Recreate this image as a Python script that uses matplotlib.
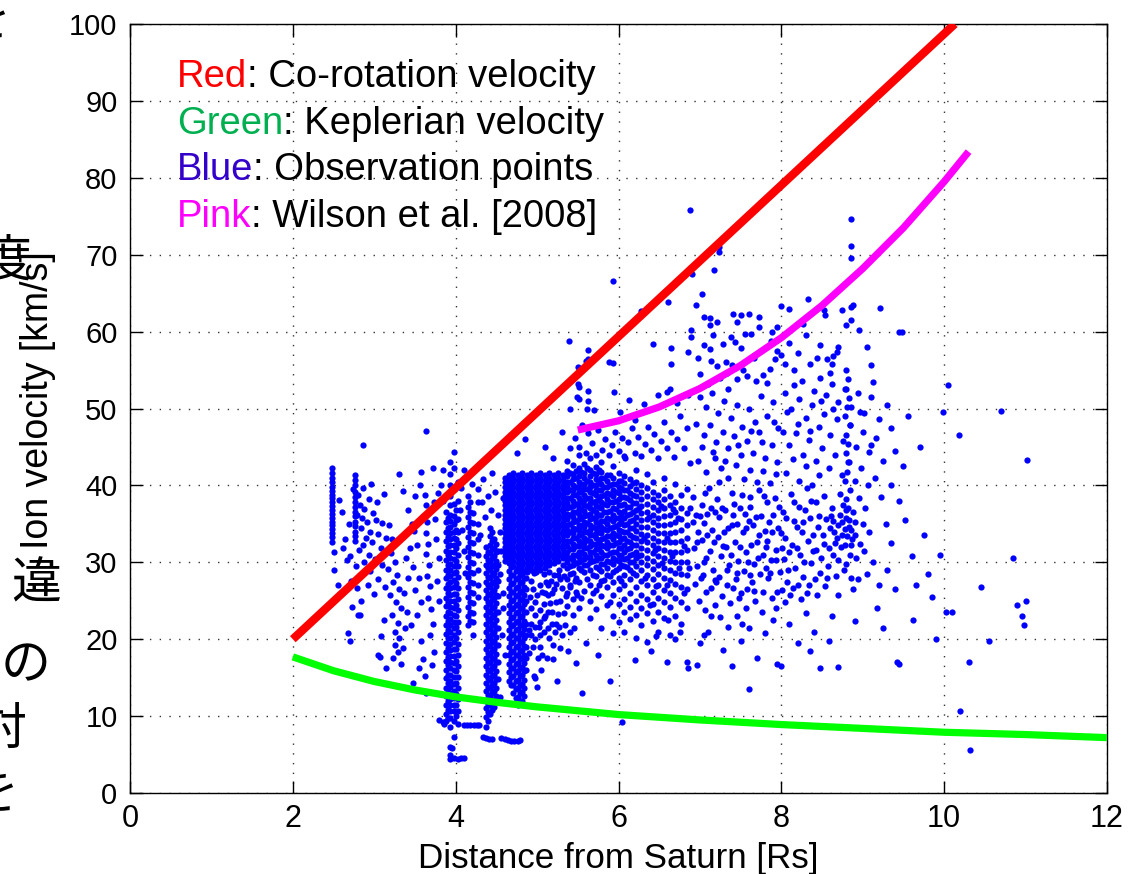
import matplotlib
matplotlib.use("Agg")
import matplotlib.pyplot as plt

# ---------------- model curves ----------------
red_x = [2.0, 10.13]
red_y = [20.0, 100.0]

green_x = [2.0, 2.5, 3.0, 3.5, 4.0, 4.5, 5.0, 5.5, 6.0, 7.0, 8.0, 9.0, 10.0, 11.0, 12.0]
green_y = [17.7, 15.9, 14.5, 13.4, 12.5, 11.8, 11.2, 10.7, 10.2, 9.5, 8.9, 8.4, 7.9, 7.6, 7.2]

pink_x = [5.5, 6.0, 6.5, 7.0, 7.5, 8.0, 8.5, 9.0, 9.5, 10.0, 10.3]
pink_y = [47.2, 48.4, 50.2, 52.6, 55.6, 59.2, 63.4, 68.2, 73.5, 79.5, 83.4]

# ---------------- observation points ----------------
# vertical streaks: (x, [y values])
left_cols = [
    (2.48, [42.2, 41.6, 41.0, 40.4, 39.8, 39.3, 38.8, 38.3, 37.8, 37.3, 36.8, 36.3, 35.8, 35.3, 34.8, 34.3, 33.8, 33.3, 32.7]),
    (2.76, [41.3, 40.7, 40.0, 39.2, 38.5, 37.9, 37.2, 36.6, 36.0, 35.3, 34.7, 34.0, 33.4, 32.8]),
]

left_pts = [
    (2.50, 31.4), (2.50, 29.0), (2.57, 38.1), (2.60, 36.6), (2.64, 33.0), (2.62, 31.8), (2.66, 30.3),
    (2.55, 27.0), (2.68, 20.8), (2.70, 19.8), (2.80, 23.1), (2.83, 23.1), (3.07, 17.7), (2.86, 45.2),
    (3.63, 47.1), (2.74, 39.5), (2.80, 38.8), (2.82, 37.5), (2.79, 36.2), (2.85, 35.8), (2.88, 36.9),
    (2.91, 35.2), (2.84, 34.4), (2.95, 34.0), (2.98, 36.4), (3.02, 35.5), (2.90, 33.1), (2.86, 32.3),
    (2.81, 31.6), (2.93, 31.0), (2.97, 32.6), (3.05, 33.7), (3.08, 31.8), (3.01, 30.4), (2.88, 30.0),
    (2.78, 29.5), (2.83, 28.4), (2.95, 28.9), (3.10, 29.6), (3.05, 27.8), (2.92, 27.0), (2.79, 26.6),
    (3.00, 25.9), (3.13, 26.8), (2.84, 25.0), (2.72, 27.6), (2.70, 30.8), (2.73, 24.2), (2.69, 35.0),
    (2.93, 38.2), (3.03, 37.9), (3.10, 35.1), (3.15, 33.2), (3.12, 38.9), (2.86, 39.7), (2.96, 40.2),
    (3.18, 34.9), (3.22, 33.0), (3.20, 31.2), (3.25, 30.0), (3.17, 29.1), (3.28, 28.3), (3.23, 27.4),
    (3.30, 26.5), (3.19, 25.8), (3.27, 24.9), (3.33, 24.0), (3.22, 23.2), (3.29, 22.1), (3.25, 21.0),
    (3.31, 20.1), (3.26, 19.2), (3.29, 18.3), (3.23, 17.6), (3.33, 16.8), (3.35, 18.9), (3.38, 21.5),
    (3.40, 23.6), (3.36, 26.0), (3.42, 27.9), (3.39, 30.5), (3.44, 31.8), (3.37, 33.6), (3.46, 35.0),
    (3.41, 36.8), (3.49, 34.1), (3.52, 32.2), (3.47, 29.4), (3.55, 28.0), (3.50, 26.4), (3.57, 24.8),
    (3.53, 23.1), (3.45, 21.8), (3.58, 19.8), (3.60, 17.4), (3.62, 15.2), (3.64, 13.0), (3.60, 36.0),
    (3.63, 37.5), (3.62, 38.7), (3.65, 35.2), (3.63, 33.8), (3.66, 32.4), (3.64, 31.1), (3.67, 29.7),
    (3.65, 28.2), (3.68, 26.9), (3.66, 25.3), (3.70, 23.9), (3.72, 22.0), (3.69, 20.6), (3.74, 18.4),
    (3.71, 16.6), (3.75, 35.6), (3.73, 37.8), (3.78, 39.0), (3.76, 33.0), (3.79, 30.5), (3.77, 27.6),
    (3.80, 25.0), (3.56, 40.0), (3.50, 38.6), (3.35, 39.3), (3.12, 22.5), (3.08, 20.4), (3.05, 18.0),
    (3.15, 16.2), (3.48, 14.3), (3.55, 16.2), (3.30, 41.5), (3.58, 41.8), (3.72, 42.3),
]

streak_cols = [
    (3.88, [36.5, 35.2, 33.9, 32.8, 31.5, 30.3, 29.0, 27.9, 26.6, 25.4, 24.3, 23.0, 21.8, 20.7, 19.5, 18.3,
            17.2, 16.0, 14.9, 13.7, 12.6, 11.4, 10.3, 9.4]),
    (3.905, [35.8, 34.5, 33.3, 32.1, 30.9, 29.6, 28.4, 27.2, 26.0, 24.8, 23.6, 22.4, 21.2, 20.1, 18.9, 17.7,
             16.6, 15.4, 14.3, 13.1, 12.0, 10.8, 9.8]),
    (3.93, [43.0, 41.5, 40.0, 38.6, 37.4, 36.2, 35.4, 34.6, 33.8, 33.0, 32.2, 31.4, 30.6, 29.8, 29.0, 28.2,
            27.4, 26.6, 25.8, 25.0, 24.2, 23.4, 22.6, 21.8, 21.0, 20.2, 19.4, 18.6, 17.8, 17.0, 16.2, 15.4,
            14.6, 13.8, 13.0, 12.2, 11.4, 10.6, 9.8, 8.6, 6.0, 5.0, 4.4]),
    (3.98, [44.3, 42.2, 39.8, 37.6, 36.0, 35.0, 34.0, 33.1, 32.2, 31.3, 30.4, 29.5, 28.6, 27.7, 26.8, 25.9,
            25.0, 24.1, 23.2, 22.3, 21.4, 20.5, 19.6, 18.7, 17.8, 16.9, 16.0, 15.1, 14.2, 13.3, 12.4, 11.5,
            10.6, 9.4, 7.3, 4.5]),
    (4.005, [36.8, 35.5, 34.2, 33.0, 31.8, 30.2, 28.8, 27.3, 25.9, 24.5, 23.0, 21.6, 20.1, 18.7, 17.2, 15.8,
             14.3, 12.9, 11.4, 10.0]),
    (4.03, [40.5, 38.0, 35.6, 33.9, 32.5, 31.0, 29.5, 28.1, 26.6, 25.2, 23.8, 22.3, 20.9, 19.4, 18.0, 16.5,
            15.1, 13.6, 12.2, 10.7, 9.0, 4.4]),
    (4.15, [38.6, 37.2, 35.9, 34.6, 33.3, 32.0, 30.7, 29.4, 28.1, 26.8, 25.5, 24.2, 23.0, 21.8]),
    (4.18, [37.9, 36.5, 35.2, 33.9, 32.6, 31.3, 30.0, 28.7, 27.4, 26.1, 24.8, 23.6, 22.4]),
    (4.21, [36.4, 35.1, 33.8, 32.5, 31.2, 29.9, 28.6, 27.3, 26.0, 24.7, 23.4, 22.2, 20.6]),
    (4.27, [39.5, 37.8, 35.0, 33.0, 31.0, 29.0, 27.0, 25.5]),
    (4.37, [32.0, 30.8, 29.7, 28.6, 27.5, 26.4, 25.3, 24.2, 23.1, 22.0, 20.9, 19.8, 18.7, 17.6, 16.5, 15.4,
            14.3, 13.2, 12.1, 11.0, 9.9, 8.6]),
    (4.395, [31.4, 30.3, 29.2, 28.1, 27.0, 25.9, 24.8, 23.7, 22.6, 21.5, 20.4, 19.3, 18.2, 17.1, 16.0, 14.9,
             13.8, 12.7, 11.6, 10.5, 9.4]),
    (4.42, [34.5, 33.4, 32.3, 31.2, 30.1, 29.0, 27.9, 26.8, 25.7, 24.6, 23.5, 22.4, 21.3, 20.2, 19.1, 18.0,
            16.9, 15.8, 14.7, 13.6, 12.5, 11.4, 10.3]),
    (4.445, [33.9, 32.8, 31.7, 30.6, 29.5, 28.4, 27.3, 26.2, 25.1, 24.0, 22.9, 21.8, 20.7, 19.6, 18.5, 17.4,
             16.3, 15.2, 14.1, 13.0, 11.9, 10.8]),
    (4.47, [33.0, 31.9, 30.8, 29.7, 28.6, 27.5, 26.4, 25.3, 24.2, 23.1, 22.0, 20.9, 19.8, 18.7, 17.6, 16.5,
            15.4, 14.3, 13.2, 12.1, 11.2]),
    (4.495, [32.4, 31.3, 30.2, 29.1, 28.0, 26.9, 25.8, 24.7, 23.6, 22.5, 21.4, 20.3, 19.2, 18.1, 17.0, 15.9,
             14.8, 13.7, 12.6]),
    (4.52, [31.5, 29.6, 27.6, 25.6, 23.6, 21.4, 19.2, 17.0, 14.8]),
    (4.66, [30.0, 28.9, 27.8, 26.7, 25.6, 24.5, 23.4, 22.3, 21.2, 20.1, 19.0, 17.9, 16.8, 15.7, 14.6]),
    (4.685, [29.4, 28.3, 27.2, 26.1, 25.0, 23.9, 22.8, 21.7, 20.6, 19.5, 18.4, 17.3, 16.2, 15.1, 14.0]),
    (4.71, [29.5, 28.4, 27.3, 26.2, 25.1, 24.0, 22.9, 21.8, 20.7, 19.6, 18.5, 17.4, 16.3, 15.2, 14.1, 13.0]),
    (4.735, [28.9, 27.8, 26.7, 25.6, 24.5, 23.4, 22.3, 21.2, 20.1, 19.0, 17.9, 16.8, 15.7, 14.6, 13.5, 12.4]),
    (4.76, [29.0, 27.9, 26.8, 25.7, 24.6, 23.5, 22.4, 21.3, 20.2, 19.1, 18.0, 16.9, 15.8, 14.7, 13.6, 12.5, 11.4]),
    (4.785, [28.4, 27.3, 26.2, 25.1, 24.0, 22.9, 21.8, 20.7, 19.6, 18.5, 17.4, 16.3, 15.2, 14.1, 13.0, 11.9]),
    (4.81, [28.5, 27.4, 26.3, 25.2, 24.1, 23.0, 21.9, 20.8, 19.7, 18.6, 17.5, 16.4, 15.3, 14.2, 13.1, 12.0]),
    (4.835, [27.9, 26.8, 25.7, 24.6, 23.5, 22.4, 21.3, 20.2, 19.1, 18.0, 16.9, 15.8, 14.7, 13.6, 12.6]),
    (4.86, [28.0, 26.5, 25.0, 23.5, 22.0, 20.5, 19.0, 17.5, 16.0]),
]

mid_pts = [
    (3.80, 9.5), (3.84, 9.2), (3.86, 9.0), (4.07, 4.5), (4.10, 4.6), (3.95, 5.8),
    (4.10, 8.9), (4.14, 8.9), (4.18, 8.8), (4.22, 8.9), (4.26, 8.8), (4.29, 8.8),
    (4.33, 7.3), (4.37, 7.1), (4.41, 7.0), (4.45, 7.0), (4.56, 7.1), (4.60, 7.0), (4.64, 6.9), (4.68, 6.8),
    (4.72, 6.8), (4.76, 6.8), (4.79, 6.9),
    (4.57, 20.5), (4.60, 18.0), (4.58, 24.0), (4.93, 22.0), (4.95, 19.0), (4.91, 25.5), (4.98, 15.0), (4.55, 12.5),
    (4.05, 36.8), (4.08, 34.2), (4.10, 31.5), (4.12, 28.6), (4.07, 39.6), (4.32, 37.8), (4.36, 35.9),
    (4.40, 38.6), (4.44, 36.8), (4.48, 39.2), (4.52, 36.1), (4.55, 34.0), (4.58, 38.4), (4.56, 31.5),
    (4.54, 28.5), (4.58, 26.0), (4.30, 33.6), (4.33, 40.8), (4.45, 41.6), (4.20, 40.2), (4.10, 42.0),
    (3.85, 42.0), (3.82, 40.1), (3.84, 38.0),
    (4.93, 24.0), (4.93, 20.5), (4.98, 24.8), (4.98, 23.2), (4.98, 21.6), (4.98, 20.0), (5.03, 23.8),
    (5.03, 22.2), (5.03, 20.6), (5.03, 19.0), (5.08, 24.6), (5.08, 22.8), (5.08, 21.0), (5.13, 25.8),
    (5.13, 23.6), (5.13, 21.4), (5.18, 26.0), (5.18, 23.5), (5.23, 27.2), (5.23, 24.8), (5.23, 22.0),
    (5.28, 27.8), (5.28, 25.0), (5.33, 28.2), (5.33, 23.4), (5.30, 20.5), (5.20, 19.2), (5.12, 17.6),
    (5.05, 16.0), (4.96, 15.2), (5.38, 18.5), (5.45, 21.5), (5.25, 14.6), (5.00, 13.8), (5.48, 16.9),
    (5.16, 24.7), (5.21, 26.5), (5.26, 23.3), (5.31, 26.6), (5.10, 26.0), (5.06, 18.0), (5.15, 20.2),
    (5.22, 21.0), (5.28, 18.8), (5.35, 25.6), (5.19, 17.4), (5.01, 17.5), (4.90, 21.2), (4.90, 18.2),
    (4.95, 26.5), (5.00, 25.7), (5.06, 26.1), (5.11, 27.4), (5.17, 27.6), (5.21, 28.4), (5.27, 29.0),
    (5.32, 29.6), (5.37, 24.3), (5.41, 26.8), (5.44, 23.2), (5.40, 21.0), (5.34, 21.8), (5.27, 21.6),
    (5.18, 22.0), (5.10, 23.0), (5.02, 21.6), (5.26, 28.3), (5.14, 27.0), (5.40, 28.5), (5.47, 27.6),
    (5.49, 25.7), (4.92, 27.6), (5.03, 27.0), (5.09, 28.5), (4.96, 28.6),
]

# solid core of the cloud
core_cols = [
    (4.600, [41.0, 40.4, 39.8, 39.2, 38.6, 38.0, 37.4, 36.8, 36.2, 35.6, 35.0, 34.4, 33.8, 33.2, 32.6, 32.0,
             31.4, 30.8, 30.2]),
    (4.655, [41.3, 40.7, 40.1, 39.5, 38.9, 38.3, 37.7, 37.1, 36.5, 35.9, 35.3, 34.7, 34.1, 33.5, 32.9, 32.3,
             31.7, 31.1, 30.5, 29.9]),
    (4.710, [41.6, 41.0, 40.4, 39.8, 39.2, 38.6, 38.0, 37.4, 36.8, 36.2, 35.6, 35.0, 34.4, 33.8, 33.2, 32.6,
             32.0, 31.4, 30.8, 30.2]),
    (4.765, [41.3, 40.7, 40.1, 39.5, 38.9, 38.3, 37.7, 37.1, 36.5, 35.9, 35.3, 34.7, 34.1, 33.5, 32.9, 32.3,
             31.7, 31.1, 30.5, 29.9, 29.3]),
    (4.820, [41.6, 41.0, 40.4, 39.8, 39.2, 38.6, 38.0, 37.4, 36.8, 36.2, 35.6, 35.0, 34.4, 33.8, 33.2, 32.6,
             32.0, 31.4, 30.8, 30.2, 29.6, 29.0]),
    (4.875, [41.3, 40.7, 40.1, 39.5, 38.9, 38.3, 37.7, 37.1, 36.5, 35.9, 35.3, 34.7, 34.1, 33.5, 32.9, 32.3,
             31.7, 31.1, 30.5, 29.9, 29.3, 28.7]),
    (4.930, [41.6, 41.0, 40.4, 39.8, 39.2, 38.6, 38.0, 37.4, 36.8, 36.2, 35.6, 35.0, 34.4, 33.8, 33.2, 32.6,
             32.0, 31.4, 30.8, 30.2, 29.6, 29.0]),
    (4.985, [41.3, 40.7, 40.1, 39.5, 38.9, 38.3, 37.7, 37.1, 36.5, 35.9, 35.3, 34.7, 34.1, 33.5, 32.9, 32.3,
             31.7, 31.1, 30.5, 29.9, 29.3, 28.7]),
    (5.040, [41.6, 41.0, 40.4, 39.8, 39.2, 38.6, 38.0, 37.4, 36.8, 36.2, 35.6, 35.0, 34.4, 33.8, 33.2, 32.6,
             32.0, 31.4, 30.8, 30.2, 29.6, 29.0]),
    (5.095, [41.3, 40.7, 40.1, 39.5, 38.9, 38.3, 37.7, 37.1, 36.5, 35.9, 35.3, 34.7, 34.1, 33.5, 32.9, 32.3,
             31.7, 31.1, 30.5, 29.9, 29.3]),
    (5.150, [41.6, 41.0, 40.4, 39.8, 39.2, 38.6, 38.0, 37.4, 36.8, 36.2, 35.6, 35.0, 34.4, 33.8, 33.2, 32.6,
             32.0, 31.4, 30.8, 30.2, 29.6, 28.8]),
    (5.205, [41.3, 40.7, 40.1, 39.5, 38.9, 38.3, 37.7, 37.1, 36.5, 35.9, 35.3, 34.7, 34.1, 33.5, 32.9, 32.3,
             31.7, 31.1, 30.5, 29.9]),
    (5.260, [41.6, 41.0, 40.4, 39.8, 39.2, 38.6, 38.0, 37.4, 36.8, 36.2, 35.6, 35.0, 34.4, 33.8, 33.2, 32.6,
             32.0, 31.4, 30.8, 30.2]),
    (5.315, [41.3, 40.7, 40.1, 39.5, 38.9, 38.3, 37.7, 37.1, 36.5, 35.9, 35.3, 34.7, 34.1, 33.5, 32.9, 32.3,
             31.7, 31.1, 30.5]),
]

# dense part of the cloud to the right of the core
dense_cols = [
    (5.37, [43.2, 41.9, 41.2, 40.5, 39.8, 39.1, 38.4, 37.7, 37.0, 36.3, 35.6, 34.9, 34.2, 33.5, 32.8, 32.1,
            31.4, 30.7, 30.0, 29.3, 27.8, 26.0]),
    (5.405, [41.6, 40.5, 39.4, 38.3, 37.2, 36.1, 35.0, 33.9, 32.8, 31.7, 30.6, 29.5, 27.0]),
    (5.44, [42.6, 41.5, 40.8, 40.1, 39.4, 38.7, 38.0, 37.3, 36.6, 35.9, 35.2, 34.5, 33.8, 33.1, 32.4, 31.7,
            31.0, 30.3, 29.6, 28.6, 25.2]),
    (5.475, [41.9, 40.9, 39.8, 38.7, 37.6, 36.5, 35.4, 34.3, 33.2, 32.1, 31.0, 29.9, 28.0, 26.2]),
    (5.51, [44.0, 42.2, 41.2, 40.5, 39.8, 39.1, 38.4, 37.7, 37.0, 36.3, 35.6, 34.9, 34.2, 33.5, 32.8, 32.1,
            31.4, 30.7, 30.0, 29.2, 27.5, 24.1]),
    (5.545, [41.7, 40.2, 39.1, 38.0, 36.9, 35.8, 34.7, 33.6, 32.5, 31.4, 30.3, 29.0, 25.4]),
    (5.58, [42.8, 41.6, 40.9, 40.2, 39.5, 38.8, 38.1, 37.4, 36.7, 36.0, 35.3, 34.6, 33.9, 33.2, 32.5, 31.8,
            31.1, 30.4, 29.7, 28.8, 26.3]),
    (5.615, [42.3, 40.6, 39.5, 38.4, 37.3, 36.2, 35.1, 34.0, 32.9, 31.8, 30.7, 29.6, 27.8]),
    (5.65, [43.5, 42.0, 41.2, 40.5, 39.8, 39.1, 38.4, 37.7, 37.0, 36.3, 35.6, 34.9, 34.2, 33.5, 32.8, 32.1,
            31.4, 30.7, 30.0, 29.0, 27.1, 25.0, 22.8]),
    (5.685, [41.6, 40.1, 39.0, 37.9, 36.8, 35.7, 34.6, 33.5, 32.4, 31.3, 30.2, 28.4, 26.0]),
    (5.72, [42.4, 41.5, 40.8, 40.1, 39.4, 38.7, 38.0, 37.3, 36.6, 35.9, 35.2, 34.5, 33.8, 33.1, 32.4, 31.7,
            31.0, 30.3, 29.4, 28.2, 26.4, 23.9]),
    (5.755, [42.0, 40.5, 39.4, 38.3, 37.2, 36.1, 35.0, 33.9, 32.8, 31.7, 30.6, 29.1, 27.0]),
    (5.79, [43.0, 41.8, 41.0, 40.2, 39.4, 38.6, 37.8, 37.0, 36.2, 35.4, 34.6, 33.8, 33.0, 32.2, 31.4, 30.6,
            29.8, 28.9, 27.6, 25.6, 21.5]),
    (5.825, [40.9, 39.8, 38.7, 37.6, 36.5, 35.4, 34.3, 33.2, 32.1, 31.0, 29.8, 27.7]),
    (5.86, [41.4, 40.6, 39.8, 39.0, 38.2, 37.4, 36.6, 35.8, 35.0, 34.2, 33.4, 32.6, 31.8, 31.0, 30.2, 29.3,
            28.3, 26.8, 24.4]),
    (5.895, [41.4, 40.0, 38.9, 37.8, 36.7, 35.6, 34.5, 33.4, 32.3, 31.2, 30.1, 28.2, 24.8]),
    (5.93, [42.5, 41.0, 40.2, 39.4, 38.6, 37.8, 37.0, 36.2, 35.4, 34.6, 33.8, 33.0, 32.2, 31.4, 30.6, 29.8,
            28.8, 27.4, 25.8, 23.0, 20.8]),
    (5.965, [40.2, 39.1, 38.0, 36.9, 35.8, 34.7, 33.6, 32.5, 31.4, 30.3, 29.0]),
    (6.00, [41.6, 40.6, 39.8, 39.0, 38.2, 37.4, 36.6, 35.8, 35.0, 34.2, 33.4, 32.6, 31.8, 31.0, 30.2, 29.3,
            28.0, 26.5, 24.6, 22.2]),
    (6.035, [40.6, 39.6, 38.5, 37.4, 36.3, 35.2, 34.1, 33.0, 31.9, 30.8, 29.7, 27.6]),
    (6.07, [43.8, 41.2, 40.3, 39.4, 38.5, 37.6, 36.7, 35.8, 34.9, 34.0, 33.1, 32.2, 31.3, 30.4, 29.5, 28.4,
            27.0, 25.2, 23.5, 21.0]),
    (6.105, [39.4, 38.3, 37.2, 36.1, 35.0, 33.9, 32.8, 31.7, 30.6, 29.4]),
    (6.14, [40.8, 39.9, 39.0, 38.1, 37.2, 36.3, 35.4, 34.5, 33.6, 32.7, 31.8, 30.9, 30.0, 29.0, 27.8, 26.0,
            24.2, 22.6]),
    (6.175, [40.3, 38.8, 37.7, 36.6, 35.5, 34.4, 33.3, 32.2, 31.1, 30.0, 28.6]),
    (6.21, [42.0, 40.4, 39.5, 38.6, 37.7, 36.8, 35.9, 35.0, 34.1, 33.2, 32.3, 31.4, 30.5, 29.5, 28.4, 26.8,
            25.0, 23.2, 20.2]),
    (6.28, [40.0, 39.1, 38.2, 37.3, 36.4, 35.5, 34.6, 33.7, 32.8, 31.9, 31.0, 30.1, 29.0, 27.6, 25.8, 24.0, 21.8]),
    (6.35, [41.5, 39.6, 38.6, 37.6, 36.6, 35.6, 34.6, 33.6, 32.6, 31.6, 30.6, 29.6, 28.4, 27.0, 25.2, 23.4, 19.6]),
    (6.42, [40.5, 39.2, 38.2, 37.2, 36.2, 35.2, 34.2, 33.2, 32.2, 31.2, 30.2, 29.1, 27.8, 26.2, 24.6, 22.4]),
    (6.49, [38.8, 37.8, 36.8, 35.8, 34.8, 33.8, 32.8, 31.8, 30.8, 29.7, 28.5, 27.0, 25.4, 23.6, 21.0]),
    (6.56, [41.0, 39.4, 38.2, 37.1, 36.0, 34.9, 33.8, 32.7, 31.6, 30.5, 29.3, 28.0, 26.4, 24.8, 22.8]),
    (6.63, [38.6, 37.4, 36.2, 35.0, 33.8, 32.6, 31.4, 30.2, 29.0, 27.7, 26.0, 24.2, 20.6]),
    (6.70, [40.2, 37.8, 36.5, 35.2, 33.9, 32.6, 31.3, 30.0, 28.6, 27.2, 25.4, 23.0]),
    (6.77, [38.8, 37.0, 35.6, 34.2, 32.8, 31.4, 30.0, 28.5, 26.8, 24.8, 22.0]),
    (6.84, [39.5, 36.4, 34.8, 33.2, 31.6, 30.0, 28.3, 26.5, 24.0, 17.0]),
]

upper_pts = [
    (5.40, 44.8), (5.46, 46.2), (5.52, 45.0), (5.55, 47.9), (5.60, 44.2), (5.63, 46.8), (5.68, 45.5),
    (5.72, 43.9), (5.75, 47.2), (5.80, 44.6), (5.84, 46.0), (5.88, 44.0), (5.92, 45.3), (5.96, 47.0),
    (6.00, 44.5), (6.04, 46.1), (6.08, 43.6), (6.12, 45.6), (6.16, 47.5), (6.20, 44.2), (6.24, 46.3),
    (6.28, 43.8), (6.32, 45.4), (6.36, 47.6), (6.40, 44.6), (6.44, 46.7), (6.48, 43.5), (6.52, 45.8),
    (6.56, 48.3), (6.60, 44.9), (6.64, 47.0), (6.68, 43.7), (6.72, 46.0), (6.76, 49.0), (6.80, 44.8),
    (6.84, 47.4), (6.88, 42.9), (5.50, 53.2), (5.49, 51.5), (5.62, 52.3), (5.62, 51.0), (5.61, 49.9),
    (5.94, 52.2), (6.02, 49.6), (6.13, 51.1), (6.31, 50.6), (6.48, 51.7), (6.59, 52.2), (6.63, 52.5),
    (6.72, 50.7), (6.85, 51.8), (5.39, 58.8), (5.63, 57.6), (5.63, 56.5), (5.60, 56.2), (5.50, 55.4),
    (5.88, 56.0), (5.93, 55.9), (5.93, 66.6), (6.28, 62.7), (6.61, 63.9), (6.42, 58.4), (6.65, 57.9),
    (6.65, 55.8), (6.85, 57.4), (6.89, 60.2), (6.89, 59.3), (6.88, 75.8), (6.90, 67.5), (6.95, 63.5),
    (7.03, 64.9), (7.17, 68.0), (7.24, 70.3), (7.24, 71.0), (5.51, 52.8), (5.51, 51.2), (5.40, 50.0),
    (5.30, 47.0), (5.10, 45.0), (5.00, 49.5), (4.85, 46.0), (4.75, 44.2), (5.20, 43.5), (5.70, 49.8),
    (6.20, 48.5),
    (7.05, 61.9), (7.12, 61.8), (7.21, 61.2), (7.12, 60.8), (7.05, 58.2), (7.16, 59.5), (7.41, 62.3),
    (7.51, 62.1), (7.60, 62.3), (7.73, 61.9), (7.45, 61.2), (7.38, 59.3), (7.43, 58.7), (7.51, 57.9),
    (7.55, 59.7), (7.63, 59.7), (7.72, 60.6), (7.88, 59.9), (7.95, 60.6), (7.87, 58.8), (6.98, 56.6),
    (7.13, 56.2), (7.21, 55.5), (7.32, 56.0), (7.00, 54.5), (7.10, 53.2), (7.25, 54.0), (7.33, 54.6),
    (7.40, 55.6), (7.46, 53.9), (7.53, 55.0), (7.58, 54.2), (7.69, 53.6), (7.77, 54.3), (7.82, 53.3),
    (7.86, 55.1), (7.92, 56.4), (8.00, 56.9), (8.05, 55.8), (7.95, 57.5), (7.00, 51.5), (7.08, 50.2),
    (7.15, 52.0), (7.22, 49.4), (7.30, 51.0), (7.38, 48.8), (7.45, 50.5), (7.52, 47.6), (7.60, 49.9),
    (7.68, 48.2), (7.75, 51.6), (7.82, 49.0), (7.90, 50.8), (7.96, 47.4), (6.95, 48.0), (7.05, 46.5),
    (7.12, 47.9), (7.20, 45.6), (7.28, 47.0), (7.35, 44.8), (7.42, 46.4), (7.50, 43.9), (7.58, 45.8),
    (7.65, 44.2), (7.72, 46.9), (7.80, 43.5), (7.88, 45.3), (7.95, 43.0), (6.98, 43.2), (7.08, 41.8),
    (7.18, 43.6), (7.26, 42.2), (7.34, 41.0), (7.44, 42.6), (7.54, 40.8), (7.62, 42.0), (7.70, 40.5),
    (7.78, 41.9), (7.86, 40.3), (7.94, 41.5),
    (8.00, 63.3), (8.09, 63.0), (8.33, 64.3), (8.52, 62.8), (8.54, 62.1), (8.47, 58.2), (8.60, 54.6),
    (8.62, 55.8), (8.63, 56.8), (8.74, 62.8), (8.85, 63.2), (8.88, 63.4), (8.85, 61.5), (8.85, 74.7),
    (8.85, 71.1), (8.85, 69.6), (9.21, 63.1), (8.70, 58.0), (8.68, 57.4), (8.56, 56.4), (8.79, 60.9),
    (8.95, 60.2), (9.05, 58.0), (9.10, 55.6), (8.10, 58.5), (8.20, 57.2), (8.30, 59.6), (8.15, 55.0),
    (8.25, 53.6), (8.35, 55.8), (8.40, 52.3), (8.48, 54.0), (8.55, 51.8), (8.62, 53.2), (8.70, 50.8),
    (8.78, 52.5), (8.86, 50.2), (8.94, 52.0), (9.02, 49.4), (9.10, 51.5), (9.20, 48.6), (8.05, 52.0),
    (8.12, 50.0), (8.22, 51.3), (8.30, 48.7), (8.38, 50.4), (8.46, 47.6), (8.52, 49.3), (8.60, 46.5),
    (8.68, 48.6), (8.76, 45.8), (8.84, 47.8), (8.92, 45.0), (9.00, 47.0), (9.08, 44.3), (9.16, 46.1),
    (9.25, 43.2), (8.02, 47.0), (8.10, 45.2), (8.18, 46.8), (8.26, 44.0), (8.34, 45.9), (8.42, 43.2),
    (8.50, 44.8), (8.58, 42.2), (8.66, 43.9), (8.74, 41.4), (8.82, 43.0), (8.90, 40.6), (8.98, 42.3),
    (9.06, 40.0), (8.06, 41.6), (8.14, 43.4), (8.22, 40.6), (8.30, 42.5), (8.38, 40.0), (8.46, 41.4),
    (9.30, 50.5), (9.35, 47.5), (9.12, 53.5), (9.40, 44.5), (9.45, 60.0),
    (8.80, 55.0), (8.82, 53.8), (8.79, 52.6), (8.83, 51.4), (8.81, 50.2), (8.78, 49.0), (8.84, 47.8),
    (8.80, 46.6), (8.82, 45.4), (8.79, 44.2), (8.83, 43.0), (8.81, 41.8), (8.78, 40.6), (8.84, 39.4),
    (8.80, 38.2), (8.82, 37.0), (8.79, 35.8), (8.83, 34.6), (8.81, 33.4), (8.78, 32.2), (8.84, 31.0),
    (8.80, 29.8), (8.85, 28.0), (8.88, 26.5),
    (7.02, 45.0), (7.16, 44.3), (7.31, 43.2), (7.47, 45.2), (7.63, 47.1), (7.76, 45.6), (7.91, 48.3),
    (8.07, 49.6), (8.21, 48.0), (8.35, 47.1), (8.49, 51.0), (8.64, 50.0), (8.97, 49.6), (8.16, 53.1),
    (8.44, 56.6), (7.35, 52.6), (7.66, 56.6), (7.12, 57.8), (7.28, 58.4), (7.80, 57.9), (8.27, 61.0),
]

right_pts = [
    (6.92, 38.5), (6.95, 36.2), (6.98, 34.0), (6.93, 31.8), (6.97, 29.5), (6.94, 27.2), (6.99, 25.0),
    (7.02, 37.4), (7.05, 35.1), (7.03, 32.9), (7.07, 30.6), (7.04, 28.3), (7.08, 26.1), (7.06, 23.8),
    (7.11, 39.6), (7.13, 37.0), (7.15, 34.2), (7.12, 31.5), (7.16, 29.0), (7.14, 26.7), (7.18, 24.4),
    (7.21, 38.2), (7.24, 35.9), (7.22, 33.3), (7.26, 30.8), (7.23, 28.1), (7.27, 25.6), (7.25, 22.9),
    (7.31, 36.8), (7.34, 34.5), (7.32, 32.0), (7.36, 29.6), (7.33, 27.0), (7.37, 24.7), (7.39, 39.0),
    (7.35, 21.6), (7.10, 21.0), (7.00, 19.5), (7.28, 18.6), (6.96, 16.6),
    (7.42, 37.6), (7.45, 35.0), (7.43, 32.6), (7.47, 30.2), (7.44, 27.8), (7.48, 25.3), (7.46, 23.0),
    (7.52, 38.8), (7.55, 36.3), (7.53, 33.9), (7.57, 31.4), (7.54, 28.9), (7.58, 26.5), (7.56, 24.0),
    (7.62, 37.2), (7.65, 34.8), (7.63, 32.3), (7.67, 29.8), (7.64, 27.4), (7.68, 25.0), (7.72, 39.4),
    (7.75, 36.0), (7.73, 33.5), (7.77, 31.0), (7.74, 28.5), (7.78, 26.1), (7.76, 23.6), (7.82, 37.8),
    (7.85, 35.3), (7.83, 32.8), (7.87, 30.3), (7.84, 27.9), (7.88, 25.4), (7.60, 21.5), (7.80, 20.8),
    (7.50, 19.8), (7.70, 17.6), (7.90, 22.5), (7.40, 16.5),
    (7.92, 38.4), (7.96, 34.4), (7.94, 31.6), (7.98, 28.8), (7.95, 26.2), (8.02, 36.6), (8.05, 33.2),
    (8.03, 30.4), (8.07, 27.5), (8.04, 24.8), (8.12, 38.9), (8.15, 35.4), (8.13, 32.2), (8.17, 29.3),
    (8.14, 26.6), (8.22, 37.2), (8.25, 34.0), (8.23, 31.0), (8.27, 28.1), (8.24, 25.2), (8.32, 39.6),
    (8.35, 35.8), (8.33, 32.8), (8.37, 29.9), (8.34, 27.0), (8.42, 37.8), (8.45, 34.6), (8.43, 31.6),
    (8.47, 28.6), (8.44, 25.8), (8.10, 22.0), (8.30, 23.4), (8.20, 19.5), (8.40, 21.0), (8.00, 16.5),
    (8.48, 16.3),
    (8.52, 38.6), (8.55, 35.6), (8.53, 32.4), (8.57, 29.5), (8.54, 26.9), (8.62, 37.0), (8.65, 34.0),
    (8.63, 31.0), (8.67, 28.2), (8.72, 38.9), (8.75, 35.2), (8.73, 32.0), (8.77, 29.0), (8.70, 25.8),
    (8.88, 36.6), (8.90, 33.5), (8.92, 30.6), (8.94, 27.8), (8.96, 38.4), (8.60, 34.5), (8.68, 33.2),
    (8.86, 34.2), (8.62, 23.0), (8.90, 22.4), (8.58, 19.8), (9.00, 35.0), (9.02, 31.5), (9.05, 28.5),
    (8.64, 35.4), (8.70, 34.8), (8.74, 33.6), (8.78, 34.3), (8.83, 35.5), (8.87, 33.0), (8.85, 32.2),
    (8.66, 32.5), (8.72, 36.2), (8.80, 36.8),
    (7.00, 36.0), (7.09, 33.6), (7.19, 36.5), (7.28, 32.1), (7.39, 34.8), (7.49, 32.0), (7.60, 35.4),
    (7.70, 32.6), (7.80, 34.1), (7.90, 36.2), (8.00, 33.8), (8.09, 31.3), (8.19, 34.6), (8.29, 36.8),
    (8.39, 33.6), (8.49, 30.5), (7.05, 30.0), (7.20, 27.4), (7.41, 26.6), (7.61, 28.4), (7.81, 29.2),
    (8.01, 26.4), (8.20, 27.0), (8.41, 27.8), (8.59, 31.8), (7.14, 23.0), (7.52, 22.0), (7.93, 24.0),
    (6.91, 35.3), (6.96, 32.7), (7.01, 27.9), (7.06, 39.0), (7.09, 36.3), (7.17, 32.6), (7.19, 27.7),
    (7.23, 40.4), (7.27, 37.1), (7.29, 34.0), (7.33, 29.0), (7.38, 31.0), (7.41, 36.2), (7.46, 28.6),
    (7.49, 37.0), (7.51, 26.0), (7.56, 34.5), (7.59, 30.1), (7.61, 38.5), (7.66, 26.3), (7.69, 35.9),
    (7.71, 30.5), (7.79, 38.6), (7.81, 32.0), (7.86, 28.6), (7.89, 34.0), (7.93, 30.3), (7.97, 37.2),
    (8.01, 31.9), (8.06, 35.8), (8.08, 29.0), (8.11, 25.7), (8.16, 37.8), (8.19, 31.8), (8.26, 35.2),
    (8.28, 30.0), (8.31, 26.0), (8.36, 38.0), (8.39, 31.5), (8.46, 36.0), (8.51, 33.6), (8.56, 28.0),
    (8.61, 36.0), (8.69, 30.3), (8.76, 37.4), (8.91, 35.2), (8.97, 32.4), (9.03, 37.0),
    (6.24, 30.8), (6.31, 33.1), (6.38, 35.9), (6.45, 31.6), (6.52, 37.3), (6.59, 33.2), (6.66, 30.8),
    (6.73, 35.8), (6.81, 32.1), (6.88, 37.0), (6.25, 37.0), (6.32, 28.0), (6.46, 26.9), (6.53, 29.9),
    (6.60, 27.0), (6.67, 36.9), (6.74, 29.3), (6.80, 26.0), (6.87, 29.3), (6.39, 24.5), (6.61, 22.5),
    (6.46, 20.4), (6.76, 21.0),
]

far_pts = [
    (9.10, 45.2), (9.15, 41.0), (9.22, 38.5), (9.28, 35.0), (9.35, 32.5), (9.30, 29.0), (9.40, 26.5),
    (9.18, 24.0), (9.25, 21.5), (9.45, 38.0), (9.50, 42.5), (9.55, 49.0), (9.52, 35.5), (9.60, 30.8),
    (9.65, 27.0), (9.48, 60.0), (9.70, 45.0), (9.75, 33.5), (9.80, 28.5), (9.85, 25.5), (9.90, 20.0),
    (9.95, 31.0), (10.02, 23.5), (10.10, 23.6), (10.05, 53.0), (9.98, 49.5), (10.18, 46.5), (10.30, 17.0),
    (10.20, 10.6), (10.32, 5.6), (10.45, 26.8), (10.55, 19.8), (10.70, 49.7), (10.85, 30.5), (10.90, 24.5),
    (10.95, 23.0), (10.98, 21.8), (11.00, 25.0), (11.02, 43.3), (9.42, 17.0), (9.62, 22.5), (9.35, 40.0),
    (9.08, 34.0), (9.12, 30.0), (9.20, 27.0),
]

low_pts = [
    (6.04, 9.2), (6.20, 17.3), (5.60, 19.5), (5.75, 18.0), (6.40, 18.5), (6.60, 17.0), (6.85, 16.3),
    (7.05, 20.5), (7.60, 13.5), (7.95, 16.8), (8.35, 18.5), (8.70, 16.4), (5.90, 14.5), (6.70, 20.0),
    (5.55, 13.0), (9.45, 16.8),
]

legend_words = ["Red", "Green", "Blue", "Pink"]
legend_texts = [": Co-rotation velocity", ": Keplerian velocity", ": Observation points", ": Wilson et al. [2008]"]
legend_colors = ["#FF0000", "#00B050", "#3300CC", "#FF00FF"]

x_ticks = [0, 2, 4, 6, 8, 10, 12]
y_ticks = [0, 10, 20, 30, 40, 50, 60, 70, 80, 90, 100]

# ---------------- assemble observation arrays ----------------
obs_x, obs_y = [], []
for cols in (left_cols, streak_cols, core_cols, dense_cols):
    for x, ys in cols:
        obs_x.extend([x] * len(ys))
        obs_y.extend(ys)
for pts in (left_pts, mid_pts, upper_pts, right_pts, far_pts, low_pts):
    for x, y in pts:
        obs_x.append(x)
        obs_y.append(y)

# ---------------- figure ----------------
W, H = 1142, 874
fig = plt.figure(figsize=(W / 100, H / 100), dpi=100)
fig.patch.set_facecolor("white")
ax = fig.add_axes([130 / W, 81 / H, 977 / W, 769 / H])

SANS = ["Liberation Sans", "DejaVu Sans"]

ax.plot(obs_x, obs_y, linestyle="none", marker="o", ms=4.5, mfc="#0000FF", mec="none", zorder=2)
ax.plot(red_x, red_y, color="#FF0000", lw=6.0, solid_capstyle="butt", zorder=3)
ax.plot(green_x, green_y, color="#00FF00", lw=5.2, solid_capstyle="butt", zorder=3)
ax.plot(pink_x, pink_y, color="#FF00FF", lw=5.2, solid_capstyle="butt", zorder=3)

ax.set_xlim(0, 12)
ax.set_ylim(0, 100)
ax.set_xticks(x_ticks)
ax.set_yticks(y_ticks)
ax.set_xticklabels([str(t) for t in x_ticks], fontfamily=SANS, fontsize=22)
ax.set_yticklabels([str(t) for t in y_ticks], fontfamily=SANS, fontsize=21)
ax.tick_params(direction="in", length=9, width=1, top=True, right=True, colors="black")
ax.tick_params(axis="x", pad=8)
ax.tick_params(axis="y", pad=9)
ax.grid(True, linestyle=(0, (1, 6)), color="#333333", linewidth=1.0, zorder=0)
ax.set_axisbelow(True)
for s in ax.spines.values():
    s.set_linewidth(1.0)
    s.set_color("black")

ax.set_xlabel("Distance from Saturn [Rs]", fontfamily=SANS, fontsize=25.2, va="top")
ax.xaxis.set_label_coords(0.5, -0.064)
ax.set_ylabel("Ion velocity [km/s]", fontfamily=SANS, fontsize=27, va="center")
ax.yaxis.set_label_coords(-0.094, 0.511)

# coloured legend text
legend_y = [91.85, 85.66, 79.71, 73.64]
for word, rest, col, yy in zip(legend_words, legend_texts, legend_colors, legend_y):
    t = ax.text(0.577, yy, word, color=col, fontsize=27.5, fontfamily=SANS, va="baseline", ha="left", zorder=5)
    ax.annotate(rest, xy=(1, 0), xycoords=t, va="bottom", ha="left", color="black",
                fontsize=27.5, fontfamily=SANS, zorder=5)

# Japanese slide text clipped by the left edge of the picture
JP = ["Noto Sans CJK JP", "DejaVu Sans"]
jp_chars = [("を", 10, 22), ("度", 31, 262), ("違", 61, 584), ("の", 51, 665), ("対", 26, 730), ("を", 18, 795)]
for ch, rx, cy in jp_chars:
    fig.text(rx / W, 1 - cy / H, ch, ha="right", va="center", fontsize=36, fontfamily=JP, color="black")

fig.savefig("out.png", dpi=100, facecolor="white")
